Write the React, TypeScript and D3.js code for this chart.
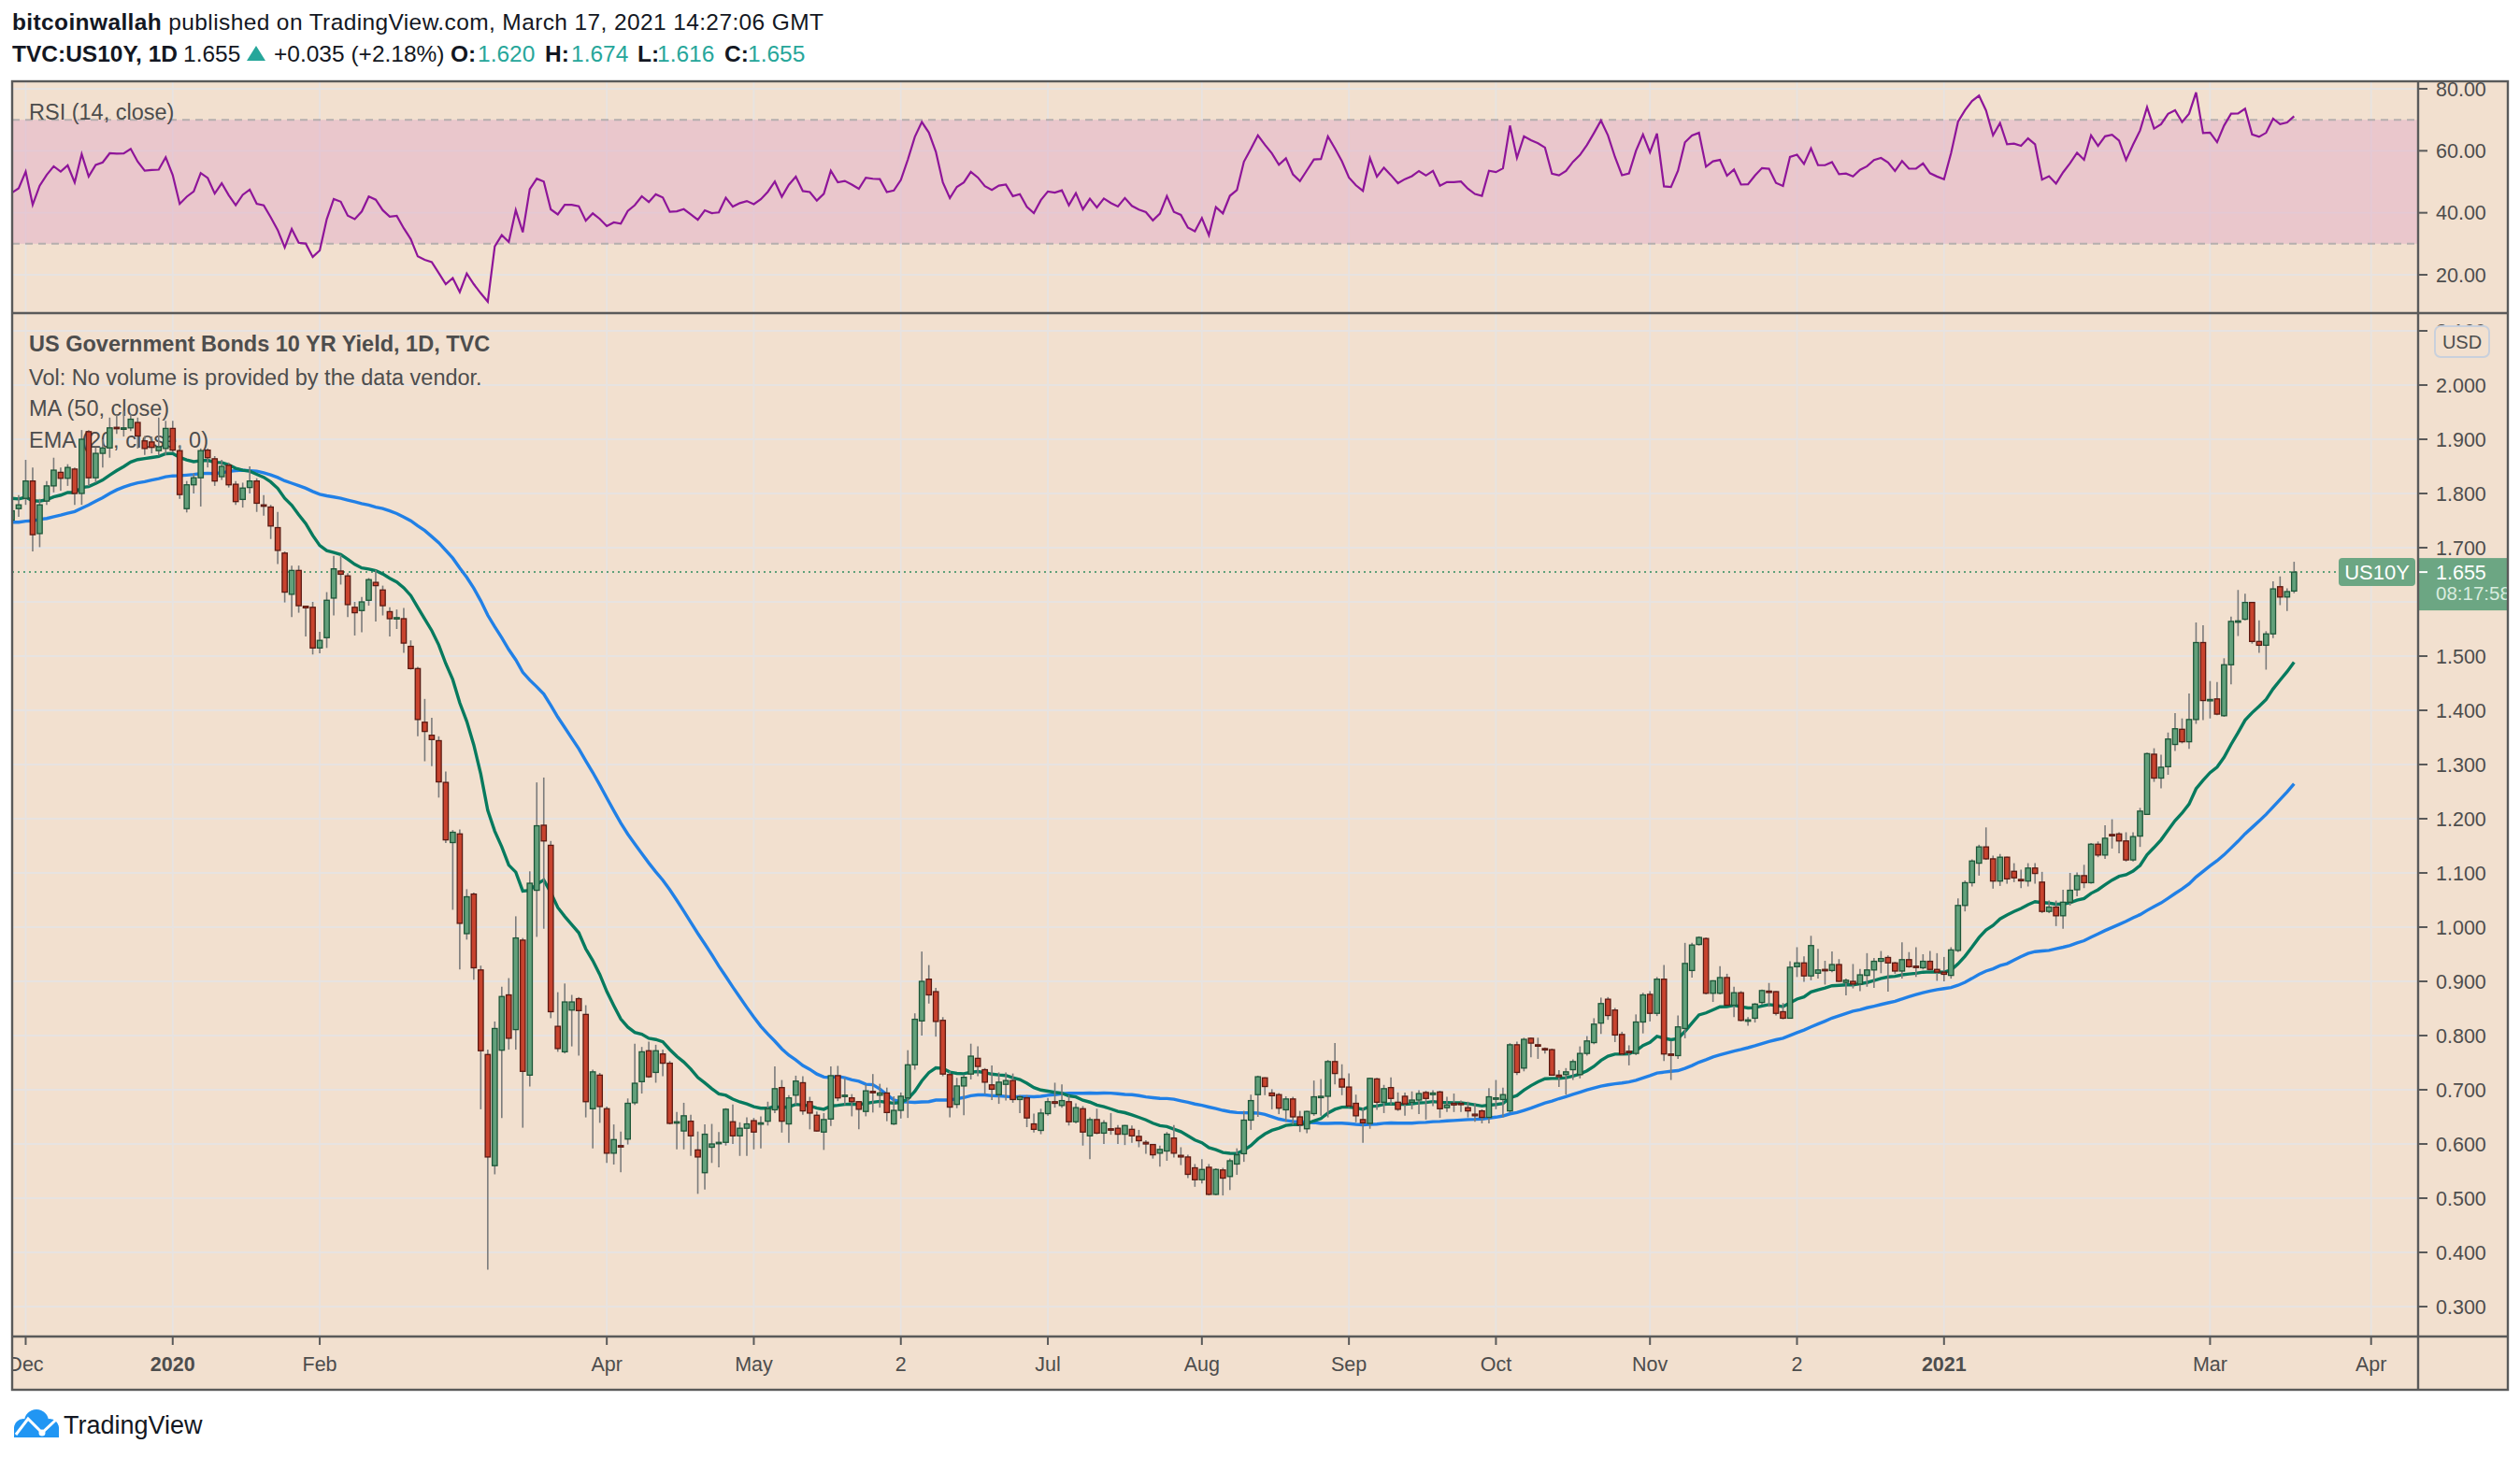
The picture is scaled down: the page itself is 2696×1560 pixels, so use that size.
import React from 'react';
import * as d3 from 'd3';

type Bar = [number, number, number, number]; // open, high, low, close

// closes before the first visible bar, only used to warm up MA / EMA / RSI
const historyCloses = [
  1.78, 1.72, 1.70, 1.64, 1.73, 1.69, 1.68, 1.67,
  1.64, 1.60, 1.53, 1.52, 1.56, 1.53, 1.59, 1.66, 1.73, 1.73, 1.77, 1.74, 1.75, 1.75,
  1.80, 1.77, 1.77, 1.77, 1.80, 1.84, 1.84, 1.78, 1.69,
  1.71, 1.79, 1.86, 1.82, 1.92, 1.94, 1.94, 1.92, 1.88, 1.82, 1.83, 1.81, 1.79, 1.74,
  1.77, 1.77, 1.76, 1.74,
];

const nov2019: Bar[] = [[1.751, 1.775, 1.745, 1.768], [1.772, 1.797, 1.757, 1.779]];
const dec2019: Bar[] = [
  [1.791, 1.862, 1.779, 1.823], [1.823, 1.848, 1.693, 1.724], [1.726, 1.79, 1.701, 1.779],
  [1.786, 1.823, 1.779, 1.814], [1.814, 1.866, 1.802, 1.843], [1.839, 1.848, 1.805, 1.828],
  [1.828, 1.854, 1.814, 1.848], [1.845, 1.848, 1.779, 1.80], [1.80, 1.917, 1.779, 1.90],
  [1.914, 1.917, 1.814, 1.829], [1.829, 1.885, 1.82, 1.874], [1.874, 1.90, 1.848, 1.884],
  [1.884, 1.94, 1.866, 1.921], [1.922, 1.945, 1.91, 1.92], [1.92, 1.952, 1.905, 1.921],
  [1.921, 1.946, 1.915, 1.937], [1.931, 1.94, 1.883, 1.906], [1.897, 1.906, 1.871, 1.883],
  [1.895, 1.905, 1.874, 1.885], [1.879, 1.94, 1.87, 1.886], [1.883, 1.934, 1.871, 1.92],
];
const jan2020: Bar[] = [
  [1.92, 1.934, 1.876, 1.88], [1.879, 1.888, 1.79, 1.798], [1.772, 1.823, 1.765, 1.816],
  [1.816, 1.837, 1.80, 1.829], [1.829, 1.883, 1.776, 1.879], [1.88, 1.883, 1.848, 1.866],
  [1.864, 1.869, 1.814, 1.823], [1.831, 1.862, 1.825, 1.85], [1.852, 1.857, 1.811, 1.816],
  [1.817, 1.823, 1.779, 1.785], [1.789, 1.82, 1.774, 1.81], [1.811, 1.85, 1.80, 1.823],
  [1.823, 1.828, 1.766, 1.782], [1.779, 1.797, 1.759, 1.777], [1.775, 1.779, 1.716, 1.74],
  [1.737, 1.766, 1.67, 1.695], [1.69, 1.693, 1.599, 1.618], [1.614, 1.667, 1.572, 1.658],
  [1.658, 1.667, 1.58, 1.593], [1.592, 1.593, 1.536, 1.589], [1.59, 1.60, 1.503, 1.515],
];
const feb2020: Bar[] = [
  [1.515, 1.545, 1.505, 1.529], [1.534, 1.618, 1.515, 1.603], [1.607, 1.685, 1.575, 1.661],
  [1.657, 1.687, 1.632, 1.651], [1.648, 1.653, 1.572, 1.595], [1.59, 1.60, 1.538, 1.58],
  [1.584, 1.609, 1.544, 1.60], [1.603, 1.644, 1.593, 1.641], [1.636, 1.659, 1.564, 1.63],
  [1.622, 1.63, 1.575, 1.593], [1.582, 1.59, 1.536, 1.569], [1.569, 1.586, 1.55, 1.571],
  [1.569, 1.589, 1.506, 1.524], [1.518, 1.529, 1.475, 1.477], [1.477, 1.48, 1.352, 1.383],
  [1.378, 1.421, 1.306, 1.361], [1.354, 1.386, 1.297, 1.346], [1.344, 1.352, 1.239, 1.268],
  [1.267, 1.287, 1.155, 1.161],
];
const mar2020: Bar[] = [
  [1.156, 1.179, 1.032, 1.175], [1.172, 1.18, 0.922, 1.007], [0.988, 1.07, 0.977, 1.056],
  [1.061, 1.064, 0.903, 0.925], [0.921, 0.929, 0.664, 0.772], [0.765, 0.774, 0.368, 0.576],
  [0.56, 0.826, 0.544, 0.813], [0.773, 0.89, 0.648, 0.872], [0.875, 0.906, 0.774, 0.795],
  [0.811, 1.02, 0.774, 0.98], [0.976, 0.98, 0.63, 0.734], [0.727, 1.103, 0.706, 1.081],
  [1.068, 1.267, 0.982, 1.187], [1.188, 1.276, 0.997, 1.159], [1.151, 1.159, 0.832, 0.844],
  [0.817, 0.88, 0.77, 0.776], [0.77, 0.896, 0.767, 0.862], [0.847, 0.875, 0.78, 0.862],
  [0.868, 0.871, 0.763, 0.846], [0.839, 0.856, 0.649, 0.678], [0.665, 0.737, 0.592, 0.733],
  [0.727, 0.731, 0.639, 0.669],
];
const apr2020: Bar[] = [
  [0.665, 0.669, 0.565, 0.583], [0.583, 0.636, 0.562, 0.608], [0.597, 0.623, 0.548, 0.595],
  [0.609, 0.684, 0.599, 0.675], [0.676, 0.785, 0.672, 0.712], [0.715, 0.779, 0.693, 0.77],
  [0.772, 0.789, 0.722, 0.724], [0.732, 0.783, 0.713, 0.772], [0.766, 0.774, 0.725, 0.749],
  [0.749, 0.753, 0.636, 0.638], [0.639, 0.659, 0.59, 0.641], [0.624, 0.676, 0.59, 0.652],
  [0.642, 0.654, 0.578, 0.615], [0.589, 0.623, 0.508, 0.576], [0.547, 0.636, 0.516, 0.618],
  [0.594, 0.637, 0.565, 0.60], [0.601, 0.622, 0.557, 0.603], [0.603, 0.666, 0.597, 0.664],
  [0.641, 0.673, 0.60, 0.615], [0.615, 0.64, 0.578, 0.629], [0.629, 0.649, 0.578, 0.637],
];
const may2020: Bar[] = [
  [0.643, 0.648, 0.59, 0.622], [0.637, 0.651, 0.592, 0.639], [0.642, 0.678, 0.634, 0.665],
  [0.663, 0.743, 0.657, 0.702], [0.704, 0.718, 0.621, 0.642], [0.637, 0.69, 0.602, 0.685],
  [0.69, 0.726, 0.672, 0.716], [0.713, 0.725, 0.654, 0.661], [0.678, 0.687, 0.627, 0.657],
  [0.653, 0.66, 0.623, 0.624], [0.622, 0.657, 0.589, 0.645], [0.646, 0.743, 0.633, 0.726],
  [0.726, 0.744, 0.679, 0.685], [0.688, 0.722, 0.672, 0.69], [0.685, 0.692, 0.651, 0.678],
  [0.678, 0.679, 0.627, 0.664], [0.66, 0.71, 0.651, 0.698], [0.697, 0.729, 0.658, 0.695],
  [0.69, 0.711, 0.667, 0.694], [0.694, 0.704, 0.642, 0.658], [0.637, 0.688, 0.635, 0.662],
];
const jun2020: Bar[] = [
  [0.662, 0.695, 0.647, 0.688], [0.685, 0.773, 0.648, 0.746], [0.746, 0.841, 0.737, 0.83],
  [0.827, 0.955, 0.80, 0.90], [0.904, 0.93, 0.859, 0.875], [0.881, 0.888, 0.798, 0.826],
  [0.828, 0.834, 0.725, 0.729], [0.728, 0.734, 0.649, 0.668], [0.673, 0.722, 0.666, 0.707],
  [0.707, 0.728, 0.653, 0.723], [0.729, 0.785, 0.719, 0.762], [0.758, 0.78, 0.725, 0.743],
  [0.737, 0.74, 0.692, 0.714], [0.709, 0.745, 0.681, 0.701], [0.691, 0.732, 0.674, 0.714],
  [0.71, 0.732, 0.68, 0.717], [0.717, 0.73, 0.676, 0.682], [0.682, 0.69, 0.657, 0.687],
  [0.685, 0.69, 0.631, 0.648], [0.637, 0.656, 0.621, 0.627], [0.625, 0.665, 0.618, 0.657],
];
const jul2020: Bar[] = [
  [0.656, 0.685, 0.652, 0.678], [0.678, 0.713, 0.667, 0.675], [0.671, 0.71, 0.667, 0.68],
  [0.678, 0.69, 0.634, 0.641], [0.641, 0.675, 0.638, 0.667], [0.665, 0.67, 0.597, 0.622],
  [0.615, 0.649, 0.572, 0.645], [0.645, 0.665, 0.618, 0.62], [0.62, 0.644, 0.60, 0.639],
  [0.628, 0.657, 0.617, 0.627], [0.629, 0.635, 0.60, 0.618], [0.618, 0.635, 0.598, 0.634],
  [0.627, 0.634, 0.602, 0.615], [0.614, 0.626, 0.594, 0.606], [0.603, 0.607, 0.582, 0.60],
  [0.599, 0.60, 0.573, 0.58], [0.583, 0.597, 0.558, 0.59], [0.587, 0.622, 0.569, 0.618],
  [0.611, 0.635, 0.575, 0.583], [0.579, 0.594, 0.561, 0.576], [0.576, 0.58, 0.537, 0.544],
  [0.556, 0.563, 0.521, 0.534],
];
const aug2020: Bar[] = [
  [0.534, 0.572, 0.527, 0.553], [0.557, 0.563, 0.505, 0.507], [0.507, 0.555, 0.505, 0.553],
  [0.552, 0.556, 0.505, 0.537], [0.54, 0.573, 0.515, 0.569], [0.563, 0.592, 0.543, 0.58],
  [0.582, 0.661, 0.567, 0.644], [0.644, 0.691, 0.626, 0.68], [0.691, 0.726, 0.65, 0.724],
  [0.722, 0.723, 0.69, 0.706], [0.694, 0.701, 0.664, 0.689], [0.691, 0.694, 0.655, 0.666],
  [0.663, 0.688, 0.641, 0.683], [0.683, 0.687, 0.636, 0.65], [0.65, 0.661, 0.622, 0.635],
  [0.628, 0.661, 0.62, 0.66], [0.656, 0.717, 0.652, 0.687], [0.686, 0.72, 0.652, 0.688],
  [0.688, 0.755, 0.649, 0.752], [0.752, 0.786, 0.71, 0.73], [0.72, 0.747, 0.69, 0.705],
];
const sep2020: Bar[] = [
  [0.705, 0.73, 0.667, 0.67], [0.675, 0.691, 0.64, 0.652], [0.645, 0.667, 0.602, 0.639],
  [0.638, 0.722, 0.628, 0.721], [0.72, 0.722, 0.663, 0.677], [0.677, 0.709, 0.657, 0.702],
  [0.704, 0.723, 0.672, 0.684], [0.677, 0.695, 0.661, 0.664], [0.688, 0.695, 0.652, 0.674],
  [0.677, 0.697, 0.664, 0.681], [0.681, 0.699, 0.655, 0.693], [0.695, 0.698, 0.645, 0.684],
  [0.691, 0.699, 0.67, 0.694], [0.696, 0.698, 0.648, 0.665], [0.667, 0.687, 0.659, 0.672],
  [0.675, 0.693, 0.659, 0.672], [0.675, 0.68, 0.659, 0.673], [0.667, 0.678, 0.649, 0.661],
  [0.655, 0.675, 0.641, 0.652], [0.661, 0.664, 0.638, 0.649], [0.649, 0.703, 0.638, 0.687],
];
const oct2020: Bar[] = [
  [0.683, 0.718, 0.664, 0.685], [0.682, 0.704, 0.649, 0.691], [0.661, 0.786, 0.658, 0.783],
  [0.783, 0.789, 0.727, 0.732], [0.74, 0.796, 0.734, 0.793], [0.795, 0.796, 0.76, 0.786],
  [0.783, 0.796, 0.757, 0.781], [0.776, 0.778, 0.767, 0.774], [0.774, 0.776, 0.726, 0.727],
  [0.727, 0.736, 0.705, 0.724], [0.728, 0.74, 0.691, 0.733], [0.737, 0.756, 0.718, 0.752],
  [0.728, 0.78, 0.721, 0.767], [0.767, 0.799, 0.763, 0.79], [0.787, 0.832, 0.784, 0.821],
  [0.823, 0.87, 0.803, 0.859], [0.867, 0.871, 0.829, 0.837], [0.847, 0.851, 0.788, 0.801],
  [0.802, 0.807, 0.764, 0.766], [0.771, 0.782, 0.745, 0.77], [0.767, 0.839, 0.764, 0.825],
  [0.825, 0.879, 0.804, 0.875],
];
const nov2020: Bar[] = [
  [0.876, 0.882, 0.826, 0.841], [0.841, 0.908, 0.836, 0.904], [0.904, 0.93, 0.753, 0.766],
  [0.766, 0.79, 0.718, 0.764], [0.763, 0.837, 0.757, 0.816], [0.813, 0.971, 0.795, 0.933],
  [0.92, 0.971, 0.907, 0.967], [0.968, 0.983, 0.966, 0.981], [0.979, 0.981, 0.876, 0.878],
  [0.878, 0.902, 0.862, 0.901], [0.878, 0.928, 0.876, 0.907], [0.907, 0.914, 0.855, 0.856],
  [0.856, 0.89, 0.834, 0.879], [0.879, 0.882, 0.826, 0.828], [0.827, 0.834, 0.818, 0.829],
  [0.832, 0.86, 0.824, 0.858], [0.861, 0.885, 0.857, 0.883], [0.882, 0.897, 0.853, 0.881],
  [0.881, 0.882, 0.837, 0.841], [0.844, 0.86, 0.83, 0.832], [0.832, 0.937, 0.831, 0.926],
];
const dec2020: Bar[] = [
  [0.927, 0.963, 0.908, 0.934], [0.934, 0.946, 0.899, 0.91], [0.91, 0.984, 0.902, 0.966],
  [0.915, 0.96, 0.905, 0.921], [0.922, 0.938, 0.894, 0.921], [0.92, 0.955, 0.917, 0.931],
  [0.931, 0.941, 0.899, 0.90], [0.898, 0.905, 0.874, 0.902], [0.90, 0.932, 0.887, 0.895],
  [0.895, 0.923, 0.882, 0.912], [0.911, 0.952, 0.89, 0.921], [0.921, 0.943, 0.888, 0.937],
  [0.937, 0.956, 0.915, 0.942], [0.944, 0.948, 0.881, 0.934], [0.934, 0.936, 0.914, 0.919],
  [0.919, 0.972, 0.905, 0.94], [0.94, 0.954, 0.925, 0.927], [0.928, 0.963, 0.908, 0.927],
  [0.925, 0.95, 0.922, 0.937], [0.937, 0.956, 0.919, 0.922], [0.922, 0.952, 0.901, 0.917],
];
const jan2021: Bar[] = [
  [0.917, 0.945, 0.90, 0.913], [0.911, 0.963, 0.905, 0.958], [0.957, 1.053, 0.954, 1.04],
  [1.04, 1.086, 1.029, 1.082], [1.082, 1.125, 1.075, 1.122], [1.118, 1.152, 1.095, 1.148],
  [1.148, 1.184, 1.124, 1.126], [1.126, 1.132, 1.071, 1.085], [1.085, 1.135, 1.076, 1.129],
  [1.129, 1.13, 1.08, 1.089], [1.103, 1.118, 1.083, 1.091], [1.088, 1.106, 1.072, 1.087],
  [1.085, 1.118, 1.075, 1.109], [1.109, 1.118, 1.08, 1.099], [1.083, 1.102, 1.026, 1.029],
  [1.029, 1.049, 1.026, 1.037], [1.037, 1.049, 1.002, 1.021], [1.021, 1.069, 0.997, 1.046],
  [1.046, 1.10, 1.04, 1.068],
];
const feb2021: Bar[] = [
  [1.069, 1.101, 1.057, 1.095], [1.095, 1.115, 1.072, 1.082], [1.082, 1.155, 1.08, 1.153],
  [1.153, 1.158, 1.129, 1.133], [1.133, 1.188, 1.126, 1.164], [1.171, 1.199, 1.145, 1.169],
  [1.172, 1.175, 1.136, 1.159], [1.159, 1.175, 1.121, 1.124], [1.124, 1.175, 1.121, 1.167],
  [1.168, 1.22, 1.148, 1.214], [1.208, 1.322, 1.207, 1.32], [1.319, 1.33, 1.268, 1.275],
  [1.275, 1.318, 1.256, 1.295], [1.296, 1.359, 1.281, 1.347], [1.337, 1.395, 1.325, 1.366],
  [1.365, 1.385, 1.339, 1.342], [1.342, 1.431, 1.329, 1.383], [1.383, 1.562, 1.375, 1.525],
  [1.525, 1.557, 1.382, 1.418],
];
const mar2021: Bar[] = [
  [1.418, 1.454, 1.385, 1.42], [1.421, 1.452, 1.391, 1.393], [1.39, 1.496, 1.388, 1.484],
  [1.484, 1.573, 1.448, 1.564], [1.563, 1.622, 1.537, 1.565], [1.568, 1.615, 1.566, 1.599],
  [1.599, 1.60, 1.523, 1.527], [1.527, 1.566, 1.506, 1.52], [1.52, 1.546, 1.475, 1.541],
  [1.541, 1.638, 1.533, 1.624], [1.628, 1.647, 1.594, 1.609], [1.609, 1.625, 1.583, 1.619],
  [1.62, 1.674, 1.616, 1.655],
];

const monthBlocks = [
  nov2019, dec2019, jan2020, feb2020, mar2020, apr2020, may2020, jun2020, jul2020,
  aug2020, sep2020, oct2020, nov2020, dec2020, jan2021, feb2021, mar2021,
];
// tick label shown at the first bar of each block ('' = no tick)
const monthLabels = ['', 'Dec', '2020', 'Feb', '', 'Apr', 'May', '2', 'Jul', 'Aug', 'Sep', 'Oct', 'Nov', '2', '2021', '', 'Mar'];
const boldLabels = ['2020', '2021'];
const futureLabel = 'Apr';
const barsToFuture = 11;

const priceTicks = [2.1, 2.0, 1.9, 1.8, 1.7, 1.6, 1.5, 1.4, 1.3, 1.2, 1.1, 1.0, 0.9, 0.8, 0.7, 0.6, 0.5, 0.4, 0.3];
const rsiTicks = [80, 60, 40, 20];
const rsiBand = [30, 70];
const lastPrice = 1.655;
const countdown = '08:17:58';

const W = 2696;
const H = 1560;
const L = 13;
const R = 2587;
const RE = 2683;
const T = 87;
const RSI_B = 335;
const MAIN_B = 1430;
const B = 1487;

const FONT = "'Liberation Sans', Arial, sans-serif";
const BG = '#F2E0CF';
const GRID = '#E7E3E1';
const BORDER = '#5A5A5A';
const TEXT = '#4D4D4D';
const TEAL = '#26A69A';
const LABEL_GREEN = '#6CA683';

function sma(values: number[], n: number) {
  return values.map((_, i) => (i < n - 1 ? NaN : (d3.mean(values.slice(i - n + 1, i + 1)) as number)));
}

function ema(values: number[], n: number) {
  const a = 2 / (n + 1);
  const out: number[] = [];
  let prev = NaN;
  values.forEach((v, i) => {
    if (i < n - 1) out.push(NaN);
    else if (i === n - 1) { prev = d3.mean(values.slice(0, n)) as number; out.push(prev); }
    else { prev = a * v + (1 - a) * prev; out.push(prev); }
  });
  return out;
}

function rsi(values: number[], n: number) {
  const out: number[] = [NaN];
  let ag = 0, al = 0;
  for (let i = 1; i < values.length; i++) {
    const ch = values[i] - values[i - 1];
    const g = Math.max(ch, 0), l = Math.max(-ch, 0);
    if (i <= n) {
      ag += g / n; al += l / n;
      out.push(i === n ? 100 - 100 / (1 + ag / al) : NaN);
    } else {
      ag = (ag * (n - 1) + g) / n;
      al = (al * (n - 1) + l) / n;
      out.push(al === 0 ? 100 : 100 - 100 / (1 + ag / al));
    }
  }
  return out;
}

const TvLogo = () => (
  <g>
    <circle cx={25} cy={1528} r={10} fill="#2196F3" />
    <circle cx={39} cy={1521} r={13} fill="#2196F3" />
    <circle cx={53} cy={1528} r={10} fill="#2196F3" />
    <rect x={15} y={1527} width={48} height={11} fill="#2196F3" />
    <polyline points="17,1535 30,1518 45,1533 60,1519" fill="none" stroke="#fff" strokeWidth={3} />
    <circle cx={45} cy={1533} r={3.5} fill="#fff" />
    <text x={68} y={1534} fontFamily={FONT} fontSize={27} fill="#131722">TradingView</text>
  </g>
);

export default function App() {
  const bars = monthBlocks.flat();
  const starts: number[] = [];
  let acc = 0;
  monthBlocks.forEach((b) => { starts.push(acc); acc += b.length; });
  const lastIdx = bars.length - 1;

  const x = d3.scaleLinear().domain([0, lastIdx + barsToFuture]).range([12.5, 2536.7]);
  const y = d3.scaleLinear().domain([0.3, 2.0]).range([1398, 412]);
  const yr = d3.scaleLinear().domain([20, 80]).range([294, 95]);

  const closes = historyCloses.concat(bars.map((b) => b[3]));
  const off = historyCloses.length;
  const ma50 = sma(closes, 50).slice(off);
  const ema20 = ema(closes, 20).slice(off);
  const rsi14 = rsi(closes, 14).slice(off);

  const line = d3.line<number>().x((_, i) => x(i)).y((v) => y(v));
  const rsiLine = d3.line<number>().x((_, i) => x(i)).y((v) => yr(v));

  const ticks = monthLabels
    .map((label, i) => ({ label, pos: x(starts[i]) }))
    .filter((t) => t.label !== '');
  ticks.push({ label: futureLabel, pos: x(lastIdx + barsToFuture) });

  const lastY = y(lastPrice);
  const usdTop = 349;

  return (
    <svg width={W} height={H} viewBox={`0 0 ${W} ${H}`} style={{ position: 'absolute', left: 0, top: 0, background: '#fff' }}>
      <defs>
        <clipPath id="mainClip"><rect x={L} y={RSI_B} width={R - L} height={MAIN_B - RSI_B} /></clipPath>
        <clipPath id="rsiClip"><rect x={L} y={T} width={R - L} height={RSI_B - T} /></clipPath>
        <clipPath id="timeClip"><rect x={L} y={MAIN_B} width={R - L} height={B - MAIN_B} /></clipPath>
        <clipPath id="axisClip"><rect x={R} y={RSI_B} width={RE - R} height={MAIN_B - RSI_B} /></clipPath>
        <clipPath id="underBadge"><rect x={R} y={RSI_B} width={RE - R} height={usdTop - RSI_B} /></clipPath>
      </defs>

      {/* header */}
      <text x={13} y={32} fontFamily={FONT} fontSize={24.5} fill="#131722" textLength={868} lengthAdjust="spacing">
        <tspan fontWeight="bold">bitcoinwallah</tspan>
        <tspan> published on TradingView.com, March 17, 2021 14:27:06 GMT</tspan>
      </text>
      <g fontFamily={FONT} fontSize={24.5} fill="#131722">
        <text x={13} y={66} fontWeight="bold">TVC:US10Y, 1D</text>
        <text x={196} y={66}>1.655</text>
        <path d="M264,65 L274,49 L284,65 Z" fill={TEAL} />
        <text x={293} y={66}>+0.035 (+2.18%)</text>
        <text x={482} y={66} fontWeight="bold">O:</text>
        <text x={511} y={66} fill={TEAL}>1.620</text>
        <text x={583} y={66} fontWeight="bold">H:</text>
        <text x={611} y={66} fill={TEAL}>1.674</text>
        <text x={682} y={66} fontWeight="bold">L:</text>
        <text x={703} y={66} fill={TEAL}>1.616</text>
        <text x={775} y={66} fontWeight="bold">C:</text>
        <text x={800} y={66} fill={TEAL}>1.655</text>
      </g>

      {/* panes background */}
      <rect x={L} y={T} width={RE - L} height={B - T} fill={BG} />

      {/* vertical grid */}
      {ticks.map((t) => (
        <line key={`vg${t.label}${t.pos}`} x1={t.pos} x2={t.pos} y1={T} y2={MAIN_B} stroke={GRID} strokeWidth={1.8} />
      ))}

      {/* RSI pane */}
      <g clipPath="url(#rsiClip)">
        {rsiTicks.map((v) => (
          <line key={`rg${v}`} x1={L} x2={R} y1={yr(v)} y2={yr(v)} stroke={GRID} strokeWidth={1.8} />
        ))}
        <rect x={L} y={yr(rsiBand[1])} width={R - L} height={yr(rsiBand[0]) - yr(rsiBand[1])} fill="#E1A9C8" fillOpacity={0.45} />
        {rsiBand.map((v) => (
          <line key={`rb${v}`} x1={L} x2={R} y1={yr(v)} y2={yr(v)} stroke="#B5AEAE" strokeWidth={2} strokeDasharray="8,6" />
        ))}
        <text x={31} y={128} fontFamily={FONT} fontSize={23.5} fill={TEXT}>RSI (14, close)</text>
        <path d={rsiLine(rsi14) ?? ''} fill="none" stroke="#8E1599" strokeWidth={2.2} />
      </g>

      {/* main pane */}
      <g clipPath="url(#mainClip)">
        {priceTicks.map((v) => (
          <line key={`pg${v}`} x1={L} x2={R} y1={y(v)} y2={y(v)} stroke={GRID} strokeWidth={1.8} />
        ))}
        <g fontFamily={FONT} fontSize={23.5} fill={TEXT}>
          <text x={31} y={376} fontWeight="bold">US Government Bonds 10 YR Yield, 1D, TVC</text>
          <text x={31} y={412}>Vol: No volume is provided by the data vendor.</text>
          <text x={31} y={445}>MA (50, close)</text>
          <text x={31} y={479}>EMA (20, close, 0)</text>
        </g>
        <line x1={L} x2={2502} y1={lastY} y2={lastY} stroke="#5FA07A" strokeWidth={2} strokeDasharray="2,4" />
        <path d={line(ma50) ?? ''} fill="none" stroke="#2180E6" strokeWidth={3.4} />
        <path d={line(ema20) ?? ''} fill="none" stroke="#077A5E" strokeWidth={3.4} />
        {bars.map(([o, h, l, c], i) => {
          const up = c >= o;
          const top = y(Math.max(o, c));
          const bh = Math.max(1.5, y(Math.min(o, c)) - top);
          return (
            <g key={`b${i}`}>
              <line x1={x(i)} x2={x(i)} y1={y(h)} y2={y(l)} stroke="#7B7B7B" strokeWidth={1.6} />
              <rect x={x(i) - 2.7} y={top} width={5.4} height={bh}
                fill={up ? '#62A07B' : '#C8432E'} stroke={up ? '#1D5638' : '#5B1A12'} strokeWidth={1.3} />
            </g>
          );
        })}
        <rect x={2502} y={lastY - 15} width={82} height={30} rx={4} fill={LABEL_GREEN} />
        <text x={2543} y={lastY} dy="0.36em" textAnchor="middle" fontFamily={FONT} fontSize={22} fill="#fff">US10Y</text>
      </g>

      {/* price axis */}
      <g fontFamily={FONT} fontSize={21.5} fill={TEXT}>
        {rsiTicks.map((v) => (
          <g key={`ra${v}`}>
            <line x1={R} x2={R + 10} y1={yr(v)} y2={yr(v)} stroke={BORDER} strokeWidth={2} />
            <text x={2606} y={yr(v)} dy="0.36em">{v.toFixed(2)}</text>
          </g>
        ))}
        <g clipPath="url(#axisClip)">
          {priceTicks.map((v) => (
            <g key={`pa${v}`}>
              <line x1={R} x2={R + 10} y1={y(v)} y2={y(v)} stroke={BORDER} strokeWidth={2} />
              <text x={2606} y={y(v)} dy="0.36em" clipPath={y(v) < usdTop + 10 ? 'url(#underBadge)' : undefined}>{v.toFixed(3)}</text>
            </g>
          ))}
          <rect x={2605} y={usdTop} width={58} height={33} rx={6} fill={BG} stroke="#C9D0DC" strokeWidth={2} />
          <text x={2634} y={usdTop + 17} dy="0.36em" textAnchor="middle" fontSize={20}>USD</text>
          <rect x={R} y={lastY - 15} width={RE - R} height={56} fill={LABEL_GREEN} />
          <line x1={R} x2={R + 10} y1={lastY} y2={lastY} stroke="#fff" strokeWidth={2} />
          <text x={2606} y={lastY} dy="0.36em" fill="#fff">{lastPrice.toFixed(3)}</text>
          <text x={2606} y={lastY + 23} dy="0.36em" fontSize={20.5} fill="#D8ECDF">{countdown}</text>
        </g>
      </g>

      {/* time axis */}
      <g clipPath="url(#timeClip)" fontFamily={FONT} fontSize={21.5} fill={TEXT}>
        {ticks.map((t) => (
          <g key={`ta${t.label}${t.pos}`}>
            <line x1={t.pos} x2={t.pos} y1={MAIN_B} y2={MAIN_B + 9} stroke={BORDER} strokeWidth={2} />
            <text x={t.pos} y={1467} textAnchor="middle" fontWeight={boldLabels.includes(t.label) ? 'bold' : 'normal'}>{t.label}</text>
          </g>
        ))}
      </g>

      {/* borders */}
      <g fill="none" stroke={BORDER} strokeWidth={2.4}>
        <rect x={L} y={T} width={RE - L} height={B - T} />
        <line x1={R} x2={R} y1={T} y2={B} />
        <line x1={L} x2={RE} y1={RSI_B} y2={RSI_B} />
        <line x1={L} x2={RE} y1={MAIN_B} y2={MAIN_B} />
      </g>

      <TvLogo />
    </svg>
  );
}
